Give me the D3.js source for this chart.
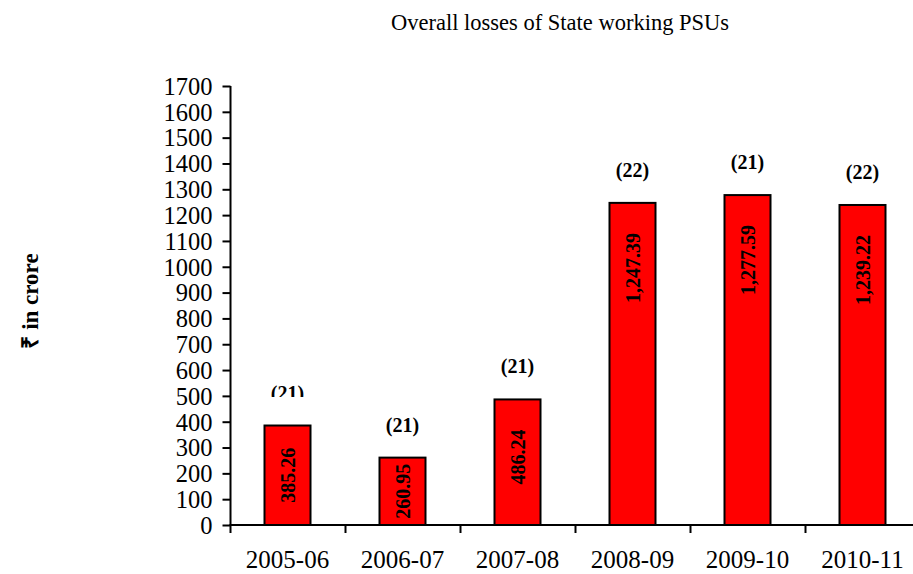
<!DOCTYPE html>
<html>
<head>
<meta charset="utf-8">
<script src="https://cdn.jsdelivr.net/npm/d3@7"></script>
<style>
  body { margin: 0; background: #fff; }
  svg { display: block; font-family: "Liberation Serif", "Times New Roman", serif; }
</style>
</head>
<body>
<svg id="chart" width="913" height="574"></svg>
<script>
// data
const years = ["2005-06", "2006-07", "2007-08", "2008-09", "2009-10", "2010-11"]
const losses = [385.26, 260.95, 486.24, 1247.39, 1277.59, 1239.22]
const psuCounts = [21, 21, 21, 22, 21, 22]
const yTicks = d3.range(0, 1701, 100)

const svg = d3.select("#chart")

const x = d3.scaleBand()
    .domain(years)
    .range([230, 920])
    .paddingInner(0.6)
    .paddingOuter(0.3)

const y = d3.scaleLinear()
    .domain([0, 1700])
    .range([525, 86])

const fmt = d3.format(",.2f")

// title
svg.append("text")
    .attr("x", 560)
    .attr("y", 30)
    .attr("text-anchor", "middle")
    .attr("font-size", 22.5)
    .text("Overall losses of State working PSUs")

// y axis label
svg.append("text")
    .attr("transform", "translate(38,301) rotate(-90)")
    .attr("text-anchor", "middle")
    .attr("font-size", 23)
    .attr("font-weight", "bold")
    .text("₹ in crore")

// y axis
const yAxis = svg.append("g")
    .attr("transform", "translate(230.5,0)")
    .call(d3.axisLeft(y).tickValues(yTicks).tickSize(8).tickPadding(10).tickFormat(d3.format("d")))
yAxis.select(".domain").attr("stroke", "#000").attr("stroke-width", 2).attr("d", "M0," + y(1700) + "V" + y(0))
yAxis.selectAll(".tick line").attr("stroke", "#000").attr("stroke-width", 2)
yAxis.selectAll(".tick text")
    .attr("font-size", 24.5)
    .attr("font-family", "Liberation Serif, serif")
    .attr("fill", "#000")
    .attr("dy", "0.34em")

// bars
const bars = svg.append("g")
bars.selectAll("rect")
    .data(losses)
    .join("rect")
    .attr("x", (d, i) => x(years[i]))
    .attr("y", d => y(d))
    .attr("width", x.bandwidth())
    .attr("height", d => y(0) - y(d))
    .attr("fill", "#ff0000")
    .attr("stroke", "#000")
    .attr("stroke-width", 2)

// values inside bars, rotated
bars.selectAll("text.val")
    .data(losses)
    .join("text")
    .attr("class", "val")
    .attr("font-size", 20)
    .attr("font-weight", "bold")
    .attr("text-anchor", "end")
    .text(d => fmt(d))
    .attr("transform", function(d, i) {
        const len = this.getComputedTextLength()
        const h = y(0) - y(d)
        const top = y(d) + Math.max(2, Math.min(30, (h - len) / 2))
        const cx = x(years[i]) + x.bandwidth() / 2 + 7
        return "translate(" + cx + "," + top + ") rotate(-90)"
    })

// the first count label is cut off at its bottom in the original
svg.append("clipPath").attr("id", "cut")
    .append("rect").attr("x", 0).attr("y", 0).attr("width", 913).attr("height", 397)

// PSU counts above bars
bars.selectAll("text.cnt")
    .data(psuCounts)
    .join("text")
    .attr("class", "cnt")
    .attr("x", (d, i) => x(years[i]) + x.bandwidth() / 2)
    .attr("y", (d, i) => y(losses[i]) - 26)
    .attr("text-anchor", "middle")
    .attr("font-size", 20)
    .attr("font-weight", "bold")
    .attr("clip-path", (d, i) => i === 0 ? "url(#cut)" : null)
    .text(d => "(" + d + ")")

// x axis
const xAxis = svg.append("g")
xAxis.append("line")
    .attr("x1", 229.5).attr("x2", 913)
    .attr("y1", y(0)).attr("y2", y(0))
    .attr("stroke", "#000").attr("stroke-width", 2)
xAxis.selectAll("line.tk")
    .data(years.concat(["end"]))
    .join("line")
    .attr("class", "tk")
    .attr("x1", (d, i) => 230 + i * x.step() + 0.5)
    .attr("x2", (d, i) => 230 + i * x.step() + 0.5)
    .attr("y1", y(0))
    .attr("y2", y(0) + 8)
    .attr("stroke", "#000").attr("stroke-width", 2)
xAxis.selectAll("text")
    .data(years)
    .join("text")
    .attr("x", d => x(d) + x.bandwidth() / 2)
    .attr("y", 568)
    .attr("text-anchor", "middle")
    .attr("font-size", 25)
    .text(d => d)
</script>
</body>
</html>
